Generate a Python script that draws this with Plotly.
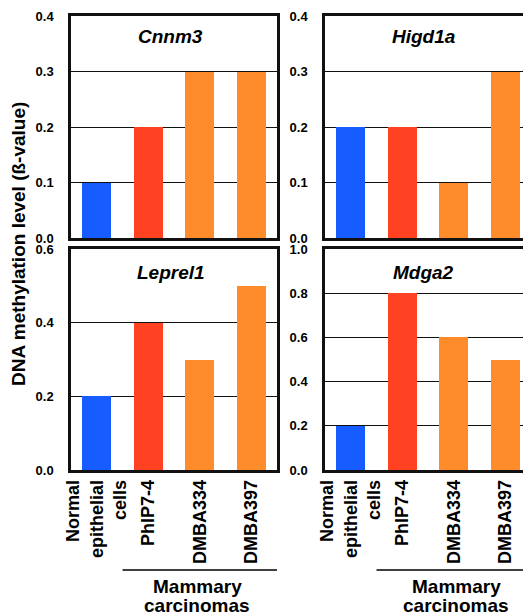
import plotly.graph_objects as go

categories = ["Normal<br>epithelial<br>cells", "PhIP7-4", "DMBA334", "DMBA397"]
genes = ["Cnnm3", "Higd1a", "Leprel1", "Mdga2"]
cnnm3 = [0.1, 0.2, 0.3, 0.3]
higd1a = [0.2, 0.2, 0.1, 0.3]
leprel1 = [0.2, 0.4, 0.3, 0.5]
mdga2 = [0.2, 0.8, 0.6, 0.5]
y_max = [0.4, 0.4, 0.6, 1.0]
y_step = [0.1, 0.1, 0.2, 0.2]
bar_colors = ["#165cff", "#ff4322", "#ff8c2a", "#ff8c2a"]
group_label_lines = ["Mammary", "carcinomas"]
y_title = "DNA methylation level (ß-value)"

series = [cnnm3, higd1a, leprel1, mdga2]

W, H = 523, 615
FONT = "Liberation Sans, Arial, sans-serif"

fig = go.Figure()

# panel geometry (pixels)
x_dom = [(71, 277), (325, 523), (71, 277), (325, 523)]
y_dom = [(16, 238), (16, 238), (249, 470), (249, 470)]
cat_px = 51.5

for i, vals in enumerate(series):
    n = i + 1
    xa = "x" if n == 1 else f"x{n}"
    ya = "y" if n == 1 else f"y{n}"
    fig.add_trace(go.Bar(
        x=list(range(len(categories))), y=vals,
        marker=dict(color=bar_colors, line=dict(width=0)),
        width=0.56, xaxis=xa, yaxis=ya, showlegend=False,
    ))
    x0, x1 = x_dom[i]
    yt, yb = y_dom[i]
    right_edge_full = x0 + 4 * cat_px
    xr_max = 3.5 - (right_edge_full - x1) / cat_px
    bottom = i >= 2
    right = i % 2 == 1
    fig.layout[f"xaxis{'' if n == 1 else n}"] = dict(
        domain=[x0 / W, x1 / W], anchor=ya, range=[-0.5, xr_max],
        showline=True, linewidth=2.5, linecolor="#111", mirror=True,
        showgrid=False, zeroline=False, ticks="", automargin=False,
        tickvals=list(range(len(categories))), ticktext=categories,
        showticklabels=bottom, tickangle=-90,
        tickfont=dict(family=FONT, size=18, color="black", weight="bold"),
    )
    nt = int(round(y_max[i] / y_step[i]))
    tv = [round(k * y_step[i], 2) for k in range(nt + 1)]
    fig.layout[f"yaxis{'' if n == 1 else n}"] = dict(
        domain=[1 - yb / H, 1 - yt / H], anchor=xa, range=[0, y_max[i]],
        showline=True, linewidth=2.5, linecolor="#111", mirror=not right,
        showgrid=True, gridcolor="#111", gridwidth=1, zeroline=False,
        tickvals=tv, ticktext=[f"{v:.1f}" for v in tv], ticks="",
        ticklabelstandoff=12, automargin=False,
        tickfont=dict(family=FONT, size=13, color="black", weight="bold"),
    )

ann = dict(xref="paper", yref="paper", showarrow=False,
           xanchor="center", yanchor="middle")

# panel titles
title_pos = [(170, 36), (424, 36), (171, 272), (423, 272)]
for g, (px, py) in zip(genes, title_pos):
    fig.add_annotation(text=f"<b><i>{g}</i></b>", x=px / W, y=1 - py / H,
                       font=dict(family=FONT, size=19, color="black"), **ann)

# y title
fig.add_annotation(text=f"<b>{y_title}</b>", x=18 / W, y=1 - 244 / H,
                   textangle=-90,
                   font=dict(family=FONT, size=19, color="black"), **ann)

# group brackets and labels
for xa, cx in [("x3", 197), ("x4", 456)]:
    fig.add_shape(type="line", xref=xa, yref="paper", x0=0.5, x1=3.5,
                  y0=1 - 570 / H, y1=1 - 570 / H,
                  line=dict(color="black", width=1.5))
    for line_txt, ly in zip(group_label_lines, [586, 605]):
        fig.add_annotation(text=f"<b>{line_txt}</b>", x=cx / W, y=1 - ly / H,
                           font=dict(family=FONT, size=19, color="black"), **ann)

fig.update_layout(
    width=W, height=H, margin=dict(l=0, r=0, t=0, b=0),
    paper_bgcolor="white", plot_bgcolor="white", bargap=0,
)
fig.write_html("out.html", config={"displayModeBar": False},
               post_script="document.body.style.margin='0';"
                           "document.body.style.overflow='hidden';")
